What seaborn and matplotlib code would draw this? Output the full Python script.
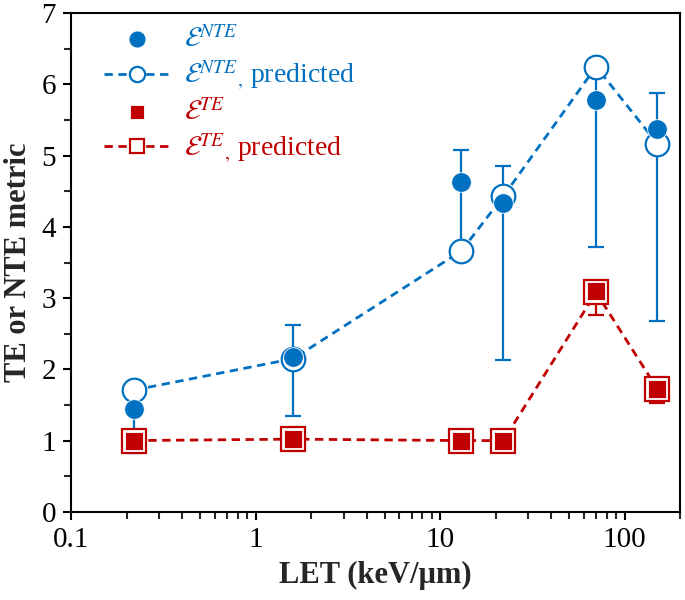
import numpy as np
import pandas as pd
import matplotlib
matplotlib.use('Agg')
import matplotlib.pyplot as plt
import seaborn as sns

# LET values (keV/um)
let = [0.22, 1.6, 13, 22, 70, 150]

# NTE metric: measured, error bounds and predicted
nte = [1.45, 2.18, 4.63, 4.33, 5.78, 5.38]
nte_low = [0.82, 1.34, 3.60, 2.13, 3.72, 2.68]
nte_high = [1.72, 2.62, 5.08, 4.86, 6.22, 5.88]
nte_pred = [1.71, 2.15, 3.66, 4.43, 6.25, 5.17]

# TE metric: measured, error bounds and predicted
te = [1.0, 1.02, 1.0, 1.0, 3.1, 1.73]
te_low = [0.92, 0.94, 0.93, 0.93, 2.76, 1.53]
te_high = [1.06, 1.08, 1.06, 1.06, 3.14, 1.78]
te_pred = [1.0, 1.02, 1.0, 1.0, 3.08, 1.73]

blue = '#0070C0'
red = '#C00000'

sns.set_style('ticks')
plt.rcParams['font.family'] = ['Liberation Serif', 'DejaVu Serif']
plt.rcParams['mathtext.fontset'] = 'stix'

df = pd.DataFrame({'let': let, 'nte': nte, 'nte_pred': nte_pred,
                   'te': te, 'te_pred': te_pred})

fig, ax = plt.subplots(figsize=(6.85, 6.0), dpi=100)
fig.subplots_adjust(left=0.104, right=0.993, top=0.978, bottom=0.147)

# error bars
ax.errorbar(let, nte, yerr=[np.subtract(nte, nte_low), np.subtract(nte_high, nte)],
            fmt='none', ecolor=blue, elinewidth=1.6, capsize=6, capthick=1.6, zorder=1)
ax.errorbar(let, te, yerr=[np.subtract(te, te_low), np.subtract(te_high, te)],
            fmt='none', ecolor=red, elinewidth=1.6, capsize=6, capthick=1.6, zorder=1)

# predicted (dashed lines with open markers)
sns.lineplot(data=df, x='let', y='nte_pred', ax=ax, color=blue, linestyle=(0, (3, 2)),
             lw=2, marker='o', markersize=17, markerfacecolor='white',
             markeredgecolor=blue, markeredgewidth=1.6, zorder=2,
             label=r'$\mathcal{E}^{NTE}$$_{,}$ predicted')
sns.lineplot(data=df, x='let', y='te_pred', ax=ax, color=red, linestyle=(0, (3, 2)),
             lw=2, marker='s', markersize=17, markerfacecolor='white',
             markeredgecolor=red, markeredgewidth=1.6, zorder=2,
             label=r'$\mathcal{E}^{TE}$$_{,}$ predicted')

# measured (filled markers)
sns.scatterplot(data=df, x='let', y='nte', ax=ax, color=blue, s=200, marker='o',
                edgecolor='white', linewidth=0.6, zorder=3, label=r'$\mathcal{E}^{NTE}$')
sns.scatterplot(data=df, x='let', y='te', ax=ax, color=red, s=150, marker='s',
                edgecolor='white', linewidth=0.6, zorder=3, label=r'$\mathcal{E}^{TE}$')

ax.set_xscale('log')
ax.set_xlim(0.1, 200)
ax.set_ylim(0, 7)
ax.set_xticks([0.1, 1, 10, 100])
ax.set_xticklabels(['0.1', '1', '10', '100'])
ax.set_yticks(range(8))
ax.set_yticks(np.arange(0.5, 7, 1), minor=True)
ax.tick_params(axis='both', which='major', labelsize=21, length=6, width=1.5,
               direction='out', colors='black', pad=5)
ax.tick_params(axis='both', which='minor', length=5, width=1.5, direction='out')
for sp in ax.spines.values():
    sp.set_linewidth(1.5)
    sp.set_color('black')

ax.set_xlabel('LET (keV/\u03bcm)', fontsize=22, fontweight='bold', labelpad=6)
ax.set_ylabel('TE or NTE metric', fontsize=22, fontweight='bold', labelpad=6)

handles, labels = ax.get_legend_handles_labels()
order = [2, 0, 3, 1]
leg = ax.legend([handles[i] for i in order], [labels[i] for i in order],
                loc='upper left', bbox_to_anchor=(0.012, 1.025), frameon=False,
                fontsize=20, handlelength=2.4, handletextpad=0.5, labelspacing=0.22,
                markerscale=1)
for txt, col in zip(leg.get_texts(), [blue, blue, red, red]):
    txt.set_color(col)
hs = leg.legend_handles
hs[0].set_sizes([150])
hs[1].set_markersize(11)
hs[2].set_sizes([110])
hs[3].set_markersize(10)

fig.savefig('out.png', dpi=100)
